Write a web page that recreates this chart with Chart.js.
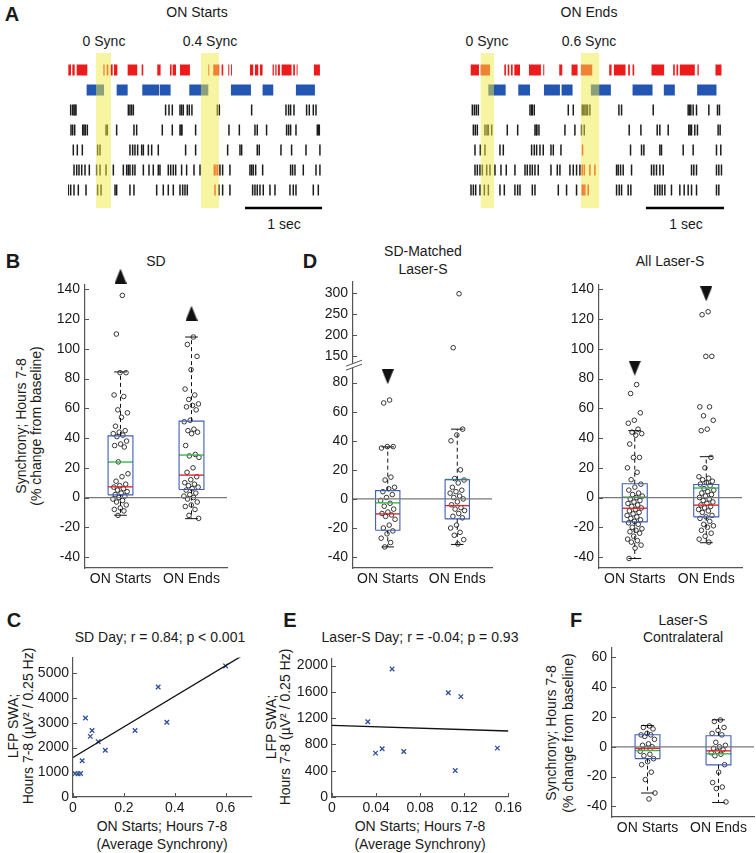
<!DOCTYPE html>
<html>
<head>
<meta charset="utf-8">
<script src="https://cdn.jsdelivr.net/npm/chart.js@4.4.1/dist/chart.umd.min.js"></script>
<style>
body { margin: 0; background: #fff; }
#fig { position: relative; width: 756px; height: 853px; overflow: hidden; font-family: 'Liberation Sans', Arial, sans-serif; color: #1a1a1a; }
#fig canvas { position: absolute; }
.t { position: absolute; transform: translate(-50%, -50%); white-space: nowrap; font-size: 14px; line-height: 1; }
.r { transform: translate(-50%, -50%) rotate(-90deg); }
.L { font-weight: bold; font-size: 20px; }
</style>
</head>
<body>
<div id="fig">
  <div class="t L" style="left:12px;top:14px">A</div>
  <div class="t" style="left:197px;top:12px">ON Starts</div>
  <div class="t" style="left:589px;top:12px">ON Ends</div>
  <div class="t" style="left:104px;top:41px">0 Sync</div>
  <div class="t" style="left:210px;top:41px">0.4 Sync</div>
  <div class="t" style="left:487px;top:41px">0 Sync</div>
  <div class="t" style="left:589px;top:41px">0.6 Sync</div>
  <div class="t" style="left:284px;top:224px">1 sec</div>
  <div class="t" style="left:686px;top:224px">1 sec</div>

  <div class="t L" style="left:13px;top:261px">B</div>
  <div class="t" style="left:156px;top:261px">SD</div>
  <div class="t r" style="left:21px;top:426px">Synchrony; Hours 7-8</div>
  <div class="t r" style="left:36px;top:426px">(% change from baseline)</div>

  <div class="t L" style="left:310px;top:261px">D</div>
  <div class="t" style="left:423px;top:251px">SD-Matched</div>
  <div class="t" style="left:423px;top:269px">Laser-S</div>
  <div class="t" style="left:670px;top:261px">All Laser-S</div>

  <div class="t L" style="left:14px;top:620px">C</div>
  <div class="t" style="left:160px;top:637px">SD Day; r = 0.84; p &lt; 0.001</div>
  <div class="t r" style="left:13px;top:726px">LFP SWA;</div>
  <div class="t r" style="left:28px;top:726px">Hours 7-8 (µV² / 0.25 Hz)</div>
  <div class="t" style="left:162px;top:826px">ON Starts; Hours 7-8</div>
  <div class="t" style="left:162px;top:844px">(Average Synchrony)</div>

  <div class="t L" style="left:290px;top:620px">E</div>
  <div class="t" style="left:420px;top:637px">Laser-S Day; r = -0.04; p = 0.93</div>
  <div class="t r" style="left:271px;top:727px">LFP SWA;</div>
  <div class="t r" style="left:285px;top:727px">Hours 7-8 (µV² / 0.25 Hz)</div>
  <div class="t" style="left:420px;top:826px">ON Starts; Hours 7-8</div>
  <div class="t" style="left:420px;top:844px">(Average Synchrony)</div>

  <div class="t L" style="left:576px;top:620px">F</div>
  <div class="t" style="left:683px;top:620px">Laser-S</div>
  <div class="t" style="left:683px;top:637px">Contralateral</div>
  <div class="t r" style="left:551px;top:733px">Synchrony; Hours 7-8</div>
  <div class="t r" style="left:568px;top:733px">(% change from baseline)</div>
</div>
<script>
// ---- data: panel A rasters (ms) ----
const startsRed = [[4,39],[56,87],[113,251],[459,476],[502,524],[554,580],[597,641],[775,900],[957,978],[1160,1203],[1325,1346],[1359,1403],[1455,1584],[1823,1835],[1887,1965],[1996,2017],[2082,2095],[2117,2130],[2364,2407],[2429,2472],[2494,2528],[2658,2675],[2693,2710],[2727,2753],[2775,2905],[2926,2948],[2970,2983],[3195,3273]];
const startsBlue = [[242,468],[632,775],[965,1186],[1195,1333],[1576,1823],[2117,2377],[2528,2667],[2961,3208]];
const startsSpikes = [
  [35,61,78,91,104,784,805,827,849,1268,1312,1355,1455,1476,1498,1550,1576,1610,1940,1966,2386,2832,2866,2892,2936,3100,3135,3187,3222],
  [39,61,87,191,208,225,251,494,511,632,857,892,1225,1355,1455,1470,1481,1658,2091,2226,2429,2459,2580,2840,2866,2892,2962,3239,3255,3265],
  [69,121,186,385,416,805,840,870,905,957,979,1044,1087,1173,1528,1658,2074,2234,2256,2459,2485,2767,2905,3092,3273],
  [78,113,143,178,221,277,372,416,494,589,719,762,784,805,840,870,979,1052,1108,1173,1195,1303,1334,1368,1399,1476,1541,1637,1715,1974,2009,2104,2364,2386,2407,2438,2529,2892,2918,2949,3057,3222,3273],
  [4,35,78,134,234,385,429,611,632,805,857,1152,1238,1303,1368,1455,1490,1520,1550,1961,2009,2104,2399,2429,2459,2494,2537,2624,2689,2884,2927,2962,3187,3252]
];
const startsRedSpikes = [[], [], [], [1901,1922,1944], [1910]];
const startsBands = [[364,558],[1727,1961]];
const startsScale = [2300, 3300];

const endsRed = [[9,115],[137,256],[440,461],[483,504],[525,547],[568,641],[756,909],[939,952],[1144,1183],[1302,1379],[1422,1567],[1785,1815],[1845,1994],[2028,2050],[2084,2105],[2327,2489],[2605,2626],[2647,2669],[2690,2882],[2916,2933],[3147,3224]];
const endsBlue = [[235,457],[619,769],[948,1153],[1174,1315],[1550,1806],[2084,2340],[2485,2626],[2912,3160]];
const endsSpikes = [
  [30,56,81,107,769,790,799,824,1260,1324,1439,1456,1473,1490,1507,1537,1909,1943,2349,2797,2815,2831,2861,2904,3062,3173,3198],
  [43,68,94,192,218,235,278,478,611,833,850,858,884,1217,1345,1430,1465,2041,2191,2400,2434,2541,2805,2822,2840,2882,2916,3181,3207],
  [64,132,192,384,427,790,824,854,897,939,1038,1068,1166,2058,2199,2229,2434,2455,2733,2861,3160,3215],
  [64,94,128,158,214,256,320,397,465,576,705,734,769,799,833,875,1038,1119,1153,1281,1324,1366,1409,1879,1900,1930,1964,2071,2327,2357,2391,2434,2477,2840,2869,2904,3160,3190,3224],
  [13,43,73,128,184,235,384,440,576,611,641,799,833,1132,1238,1366,1879,1913,1943,2028,2062,2370,2404,2434,2464,2498,2583,2690,2746,2797,2840,2904,3160,3190]
];
const endsRedSpikes = [[], [], [1443], [1439,1465,1537,1601], [1439,1456,1473,1516]];
const endsBands = [[137,307],[1422,1657]];
const endsScale = [2256, 3256];

// ---- data: box plots (% change) ----
const groups = ['ON Starts', 'ON Ends'];
const boxTicks = [-40, -20, 0, 20, 40, 60, 80, 100, 120, 140];

const sdStarts = [136,110,84,84,69,68,59,57,54,48,45,44,43,42,41,38,36,35,34,24,16,14,11,9,8,7,6,5,4,3,2,1,0,-1,-2,-3,-5,-7,-8,-9,-12];
const sdEnds = [108,103,95,86,73,69,66,63,62,61,59,52,51,46,45,44,43,35,29,28,27,20,17,14,12,10,9,8,7,6,5,3,2,1,0,-1,-3,-5,-6,-8,-12,-14];
const sdQ1 = [1.8, 5.4], sdQ3 = [41.5, 51.4], sdMed = [7.2, 15.1], sdMean = [23.9, 28.6];
const sdLo = [-11.9, -14.2], sdHi = [84.5, 108], sdArrows = [149, 124];

const smTicks = [-40, -20, 0, 20, 40, 60, 80, 150, 200, 250, 300];
const smStarts = [68,66,36,36,35,15,13,8,7,5,3,1,-1,-3,-5,-7,-9,-10,-11,-12,-14,-18,-20,-22,-24,-27,-30,-33];
const smEnds = [298,170,48,44,40,20,14,13,11,8,6,5,4,2,1,0,-2,-4,-6,-7,-8,-10,-12,-13,-18,-20,-23,-25,-28,-31];
const smQ1 = [-21.5, -13.7], smQ3 = [5.7, 13.2], smMed = [-10.3, -4.6], smMean = [-2.7, 13.4];
const smLo = [-33, -31.3], smHi = [35.8, 48], smArrows = [84, null];

const alStarts = [76,70,57,52,50,46,44,43,42,36,27,27,20,17,12,9,7,5,3,2,1,0,-1,-2,-3,-4,-5,-6,-7,-8,-9,-10,-11,-12,-13,-14,-15,-16,-17,-18,-20,-21,-22,-23,-24,-26,-28,-29,-30,-32,-34,-41];
const alEnds = [125,123,95,95,61,61,55,52,46,45,27,20,14,13,12,11,10,9,8,6,5,4,3,2,1,0,-1,-2,-3,-4,-5,-6,-7,-8,-9,-10,-12,-13,-14,-16,-18,-19,-20,-22,-24,-26,-28,-30];
const alQ1 = [-16.4, -13], alQ3 = [9.3, 8.8], alMed = [-7.2, -5.1], alMean = [0.3, 6.4];
const alLo = [-41, -30.4], alHi = [45, 27.5], alArrows = [87, 137];

const ctTicks = [-40, -20, 0, 20, 40, 60];
const ctStarts = [14,13,12,9,8,8,7,5,2,1,0,-1,-3,-5,-6,-8,-10,-12,-17,-22,-31,-35];
const ctEnds = [18,17,13,11,9,8,3,1,0,-1,-2,-3,-4,-5,-6,-12,-17,-24,-27,-28,-37];
const ctQ1 = [-7.9, -12.1], ctQ3 = [8.1, 7.4], ctMed = [-1, -2.7], ctMean = [-2.5, -4.7];
const ctLo = [-31, -37.4], ctHi = [14.3, 18.1];

// ---- data: correlations ----
const sdDaySync = [0.008,0.02,0.03,0.036,0.049,0.068,0.075,0.099,0.127,0.244,0.335,0.369,0.600];
const sdDaySwa = [950,940,950,1466,3200,2453,2693,2240,1893,2693,4452,3026,5305];
const sdDayFitX = [0, 0.659], sdDayFitY = [1600, 5680];
const sdDayXTicks = [0, 0.2, 0.4, 0.6], sdDayXLabels = ['0', '0.2', '0.4', '0.6'];
const sdDayYTicks = [0, 1000, 2000, 3000, 4000, 5000];

const lsDaySync = [0.0325,0.0395,0.0455,0.0545,0.0651,0.1055,0.1169,0.1118,0.150];
const lsDaySwa = [1146,668,734,1950,693,1588,1528,402,744];
const lsDayFitX = [0, 0.16], lsDayFitY = [1090, 1005];
const lsDayXTicks = [0, 0.04, 0.08, 0.12, 0.16], lsDayXLabels = ['0', '0.04', '0.08', '0.12', '0.16'];
const lsDayYTicks = [0, 400, 800, 1200, 1600, 2000];

// ---- styling ----
const AXIS = '#555', TXT = '#1a1a1a', ZERO = '#777';
const RED = '#ec1c1c', BLUE = '#2356b0', BOX = '#3f5fb5', MED = '#e3262a', MEAN = '#3bb54a', XBLUE = '#2c4f9d';
const HW = 0.175, CAP = 0.09;

Chart.defaults.animation = false;
Chart.defaults.events = [];
Chart.defaults.font.family = "'Liberation Sans', Arial, sans-serif";
Chart.defaults.font.size = 14;
Chart.defaults.color = TXT;
Chart.defaults.plugins.legend.display = false;
Chart.defaults.plugins.tooltip.enabled = false;

function canvasAt(left, top, w, h) {
  const c = document.createElement('canvas');
  c.width = w; c.height = h;
  c.style.left = left + 'px'; c.style.top = top + 'px';
  c.style.width = w + 'px'; c.style.height = h + 'px';
  document.getElementById('fig').appendChild(c);
  return c;
}

function triangle(down) {
  const c = document.createElement('canvas');
  c.width = 12; c.height = 15;
  const g = c.getContext('2d');
  g.fillStyle = '#111';
  g.beginPath();
  if (down) { g.moveTo(0, 0); g.lineTo(12, 0); g.lineTo(6, 15); }
  else { g.moveTo(6, 0); g.lineTo(12, 15); g.lineTo(0, 15); }
  g.fill();
  return c;
}
const TRI_UP = triangle(false), TRI_DOWN = triangle(true);

// small deterministic horizontal spread for the dots
const jit = k => (((k + 1) * 0.6180339887) % 1 - 0.5) * 0.22;

function seg(points, color, width, dash) {
  return {
    data: points.map(([x, y]) => ({ x, y })),
    showLine: true, borderColor: color, borderWidth: width, borderDash: dash || [],
    pointRadius: 0, fill: false
  };
}

function axis(min, max, ticks, labels, size, horizontal, pad) {
  return {
    type: 'linear', min, max,
    afterFit: s => { if (horizontal) s.height = size; else s.width = size; },
    afterBuildTicks: s => { s.ticks = ticks.map(value => ({ value })); },
    grid: { display: false, drawTicks: false },
    border: { display: true, color: AXIS, width: 1.2 },
    ticks: { padding: pad, autoSkip: false, maxRotation: 0, color: TXT, font: { size: 14 }, callback: (v, i) => labels[i] }
  };
}

const innerTicks = {
  id: 'innerTicks',
  afterDatasetsDraw(chart, args, opts) {
    const { ctx, chartArea: a, scales } = chart;
    ctx.save();
    ctx.strokeStyle = AXIS; ctx.lineWidth = 1;
    ctx.beginPath();
    if (opts.y) scales.y.ticks.forEach(t => {
      const p = Math.round(scales.y.getPixelForValue(t.value)) + 0.5;
      ctx.moveTo(a.left, p); ctx.lineTo(a.left + 4, p);
    });
    if (opts.x) scales.x.ticks.forEach(t => {
      const p = Math.round(scales.x.getPixelForValue(t.value)) + 0.5;
      ctx.moveTo(p, a.bottom); ctx.lineTo(p, a.bottom - 4);
    });
    ctx.stroke();
    ctx.restore();
  }
};

const breakMark = {
  id: 'breakMark',
  afterDraw(chart, args, opts) {
    const { ctx, chartArea: a, scales: { y } } = chart;
    const x = a.left, p = y.getPixelForValue(opts.at);
    ctx.save();
    ctx.fillStyle = '#fff';
    ctx.beginPath();
    ctx.moveTo(x - 7, p + 1); ctx.lineTo(x + 9, p - 5); ctx.lineTo(x + 9, p - 1); ctx.lineTo(x - 7, p + 5);
    ctx.closePath(); ctx.fill();
    ctx.strokeStyle = AXIS; ctx.lineWidth = 1;
    ctx.beginPath();
    ctx.moveTo(x - 7, p + 1); ctx.lineTo(x + 9, p - 5);
    ctx.moveTo(x - 7, p + 5); ctx.lineTo(x + 9, p - 1);
    ctx.stroke();
    ctx.restore();
  }
};

const bandPlugin = {
  id: 'bands',
  afterDatasetsDraw(chart, args, opts) {
    const { ctx, chartArea: a, scales: { x, y } } = chart;
    const bot = y.getPixelForValue(opts.bottom);
    ctx.save();
    ctx.fillStyle = 'rgba(240,233,70,0.5)';
    opts.ranges.forEach(([s, e]) => {
      const l = x.getPixelForValue(s), r = x.getPixelForValue(e);
      ctx.fillRect(l, a.top, r - l, bot - a.top);
    });
    ctx.restore();
  }
};

function bars(segs, row, color, width) {
  return {
    data: segs.flatMap(([s, e]) => [{ x: s, y: row }, { x: e, y: row }, { x: e, y: null }]),
    showLine: true, spanGaps: false, borderColor: color, borderWidth: width,
    borderCapStyle: 'butt', pointRadius: 0
  };
}

function spikes(times, row, color) {
  return {
    data: times.map(t => ({ x: t, y: row })),
    pointStyle: 'line', pointRotation: 90, pointRadius: 5.5,
    pointBorderColor: color, pointBorderWidth: 1.5
  };
}

function rasterChart(cv, o) {
  const ds = [bars(o.red, 0, RED, 11), bars(o.blue, 1, BLUE, 11)];
  o.spikes.forEach((row, r) => ds.push(spikes(row, r + 2, '#1c1c1c')));
  o.redSpikes.forEach((row, r) => ds.push(spikes(row, r + 2, RED)));
  ds.push(bars([o.scale], 6.9, '#000', 2.5));
  new Chart(cv, {
    type: 'scatter',
    data: { datasets: ds },
    options: {
      responsive: false,
      layout: { padding: 0, autoPadding: false },
      scales: {
        x: { type: 'linear', display: false, min: 0, max: o.max },
        y: { type: 'linear', display: false, min: -0.85, max: 7.1, reverse: true }
      },
      plugins: { bands: { ranges: o.bands, bottom: 6.9 } }
    },
    plugins: [bandPlugin]
  });
}

function boxChart(cv, o) {
  const T = o.tf || (v => v);
  const ds = [seg([[0.5, 0], [2.5, 0]], ZERO, 1.3)];
  groups.forEach((g, i) => {
    const c = i + 1;
    ds.push(seg([[c, T(o.q3[i])], [c, T(o.hi[i])]], '#111', 1, [4, 3]));
    ds.push(seg([[c, T(o.q1[i])], [c, T(o.lo[i])]], '#111', 1, [4, 3]));
    ds.push(seg([[c - CAP, T(o.hi[i])], [c + CAP, T(o.hi[i])]], '#111', 1));
    ds.push(seg([[c - CAP, T(o.lo[i])], [c + CAP, T(o.lo[i])]], '#111', 1));
    ds.push(seg([[c - HW, T(o.q1[i])], [c + HW, T(o.q1[i])], [c + HW, T(o.q3[i])], [c - HW, T(o.q3[i])], [c - HW, T(o.q1[i])]], BOX, 1.1));
    ds.push(seg([[c - HW, T(o.mean[i])], [c + HW, T(o.mean[i])]], MEAN, 1.4));
    ds.push(seg([[c - HW, T(o.med[i])], [c + HW, T(o.med[i])]], MED, 1.4));
    ds.push({
      data: o.pts[i].map((v, k) => ({ x: c + jit(k), y: T(v) })),
      pointStyle: 'circle', pointRadius: 2.3, pointBorderWidth: 0.9,
      pointBorderColor: '#222', pointBackgroundColor: 'rgba(0,0,0,0)'
    });
  });
  if (o.arrows) {
    ds.push({
      data: o.arrows.map((v, i) => v == null ? null : { x: i + 1, y: T(v) }).filter(Boolean),
      pointStyle: o.down ? TRI_DOWN : TRI_UP, pointRadius: 12, clip: false
    });
  }
  const plugins = [innerTicks];
  if (o.breakAt != null) plugins.push(breakMark);
  new Chart(cv, {
    type: 'scatter',
    data: { datasets: ds },
    options: {
      responsive: false,
      layout: { padding: { top: o.padTop, right: o.padRight, left: 0, bottom: 0 }, autoPadding: false },
      scales: {
        x: axis(0.5, 2.5, [1, 2], groups, 24, true, 3),
        y: axis(o.yMin, o.yMax, o.ticks.map(T), o.ticks.map(String), 40, false, 5)
      },
      plugins: { innerTicks: { y: true }, breakMark: { at: o.breakAt } }
    },
    plugins
  });
}

function corrChart(cv, o) {
  new Chart(cv, {
    type: 'scatter',
    data: {
      datasets: [
        { data: o.fitX.map((x, i) => ({ x, y: o.fitY[i] })), showLine: true, borderColor: '#111', borderWidth: 1.3, pointRadius: 0 },
        { data: o.x.map((x, i) => ({ x, y: o.y[i] })), pointStyle: 'crossRot', pointRadius: 3.2, pointBorderWidth: 1.3, pointBorderColor: XBLUE }
      ]
    },
    options: {
      responsive: false,
      layout: { padding: { top: o.padTop, right: o.padRight, left: 0, bottom: 0 }, autoPadding: false },
      scales: {
        x: axis(o.xMin, o.xMax, o.xTicks, o.xLabels, 22, true, 3),
        y: axis(o.yMin, o.yMax, o.yTicks, o.yTicks.map(String), 40, false, 4)
      },
      plugins: { innerTicks: { x: true, y: true } }
    },
    plugins: [innerTicks]
  });
}

// ---- panel A ----
rasterChart(canvasAt(68, 53, 254, 159), { red: startsRed, blue: startsBlue, spikes: startsSpikes, redSpikes: startsRedSpikes, bands: startsBands, scale: startsScale, max: 3300 });
rasterChart(canvasAt(470, 53, 256, 159), { red: endsRed, blue: endsBlue, spikes: endsSpikes, redSpikes: endsRedSpikes, bands: endsBands, scale: endsScale, max: 3282 });

// ---- panel B ----
boxChart(canvasAt(45, 263, 188, 329), {
  pts: [sdStarts, sdEnds], q1: sdQ1, q3: sdQ3, med: sdMed, mean: sdMean, lo: sdLo, hi: sdHi,
  arrows: sdArrows, down: false, ticks: boxTicks, yMin: -47.4, yMax: 143, padTop: 22, padRight: 6
});

// ---- panel D (broken axis on the left one) ----
const toDisp = v => v < 120 ? v : 98.2 + (v - 150) * 0.29;
boxChart(canvasAt(313, 260, 185, 332), {
  pts: [smStarts, smEnds], q1: smQ1, q3: smQ3, med: smMed, mean: smMean, lo: smLo, hi: smHi,
  arrows: smArrows, down: true, ticks: smTicks, tf: toDisp, breakAt: 92,
  yMin: -47.5, yMax: 149.2, padTop: 22, padRight: 6
});
boxChart(canvasAt(559, 263, 189, 329), {
  pts: [alStarts, alEnds], q1: alQ1, q3: alQ3, med: alMed, mean: alMean, lo: alLo, hi: alHi,
  arrows: alArrows, down: true, ticks: boxTicks, yMin: -47.4, yMax: 143, padTop: 22, padRight: 6
});

// ---- panel C, E ----
corrChart(canvasAt(33, 645, 226, 174), {
  x: sdDaySync, y: sdDaySwa, fitX: sdDayFitX, fitY: sdDayFitY,
  xMin: 0, xMax: 0.7, xTicks: sdDayXTicks, xLabels: sdDayXLabels,
  yMin: 0, yMax: 5650, yTicks: sdDayYTicks, padTop: 10, padRight: 8
});
corrChart(canvasAt(292, 646, 233, 173), {
  x: lsDaySync, y: lsDaySwa, fitX: lsDayFitX, fitY: lsDayFitY,
  xMin: 0, xMax: 0.16, xTicks: lsDayXTicks, xLabels: lsDayXLabels,
  yMin: 0, yMax: 2110, yTicks: lsDayYTicks, padTop: 10, padRight: 16
});

// ---- panel F ----
boxChart(canvasAt(572, 628, 184, 213), {
  pts: [ctStarts, ctEnds], q1: ctQ1, q3: ctQ3, med: ctMed, mean: ctMean, lo: ctLo, hi: ctHi,
  ticks: ctTicks, yMin: -47.1, yMax: 66.3, padTop: 20, padRight: 2
});
</script>
</body>
</html>
